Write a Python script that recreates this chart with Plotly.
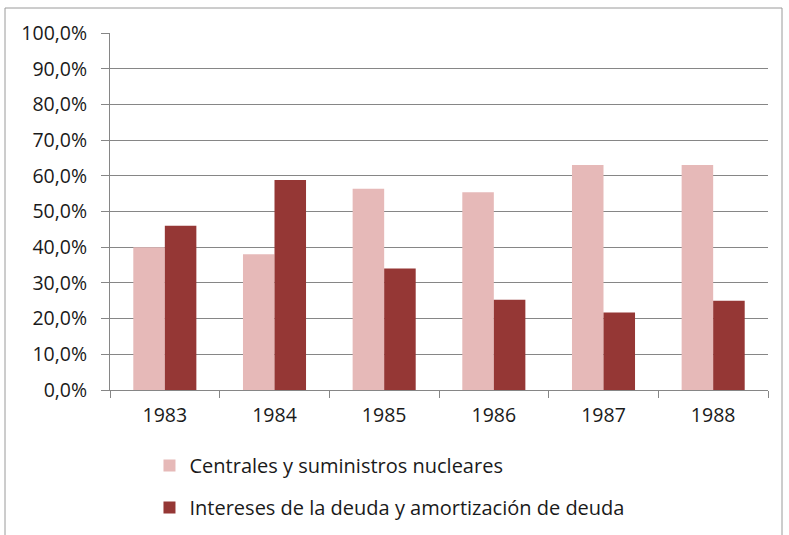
import plotly.graph_objects as go

years = ["1983", "1984", "1985", "1986", "1987", "1988"]
centrales = [40.0, 38.0, 56.4, 55.4, 63.0, 63.0]
intereses = [46.0, 58.8, 34.0, 25.3, 21.7, 25.0]
series_names = ["Centrales y suministros nucleares",
                "Intereses de la deuda y amortización de deuda"]
tick_vals = [0, 10, 20, 30, 40, 50, 60, 70, 80, 90, 100]
tick_text = ["0,0%", "10,0%", "20,0%", "30,0%", "40,0%", "50,0%",
             "60,0%", "70,0%", "80,0%", "90,0%", "100,0%"]

font_family = "Open Sans, Noto Sans, sans-serif"

fig = go.Figure()
fig.add_trace(go.Bar(x=years, y=centrales, name=series_names[0],
                     marker=dict(color="#E6B9B8", line=dict(width=0)),
                     legendgroup="a"))
fig.add_trace(go.Bar(x=years, y=intereses, name=series_names[1],
                     marker=dict(color="#953735", line=dict(width=0)),
                     legendgroup="b"))

fig.update_layout(
    width=789, height=535,
    margin=dict(l=110, r=21, t=33, b=145, autoexpand=False),
    paper_bgcolor="white", plot_bgcolor="white",
    barmode="group", bargap=0.425, bargroupgap=0,
    font=dict(family=font_family, size=19.5, color="#1a1a1a"),
    legend=dict(orientation="v", x=0.06, y=1 - 446/535, yref="container",
                xanchor="left", yanchor="top",
                font=dict(size=20, color="#1a1a1a"), tracegroupgap=13,
                traceorder="grouped", itemwidth=30),
    xaxis=dict(type="category", showline=True, linecolor="#868686", linewidth=1,
               ticks="outside", ticklen=7, tickcolor="#868686", tickson="boundaries",
               ticklabelstandoff=8, showgrid=False),
    yaxis=dict(range=[0, 100], tickvals=tick_vals, ticktext=tick_text,
               showline=True, linecolor="#868686", linewidth=1,
               ticks="outside", ticklen=8, tickcolor="#868686", ticklabelstandoff=10,
               showgrid=True, gridcolor="#868686", gridwidth=1, zeroline=False),
    shapes=[dict(type="rect", xref="paper", yref="paper",
                 x0=-105/658, x1=(782-110)/658, y0=-(545-390)/357, y1=(390-8)/357,
                 line=dict(color="#9a9a9a", width=1), layer="below")],
)

fig.write_html("out.html", config={"displayModeBar": False},
               post_script="document.body.style.margin='0';")
